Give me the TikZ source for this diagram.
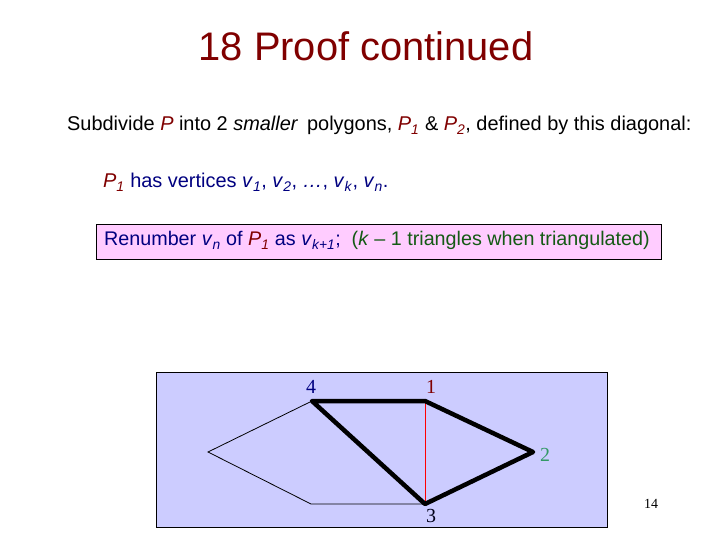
\documentclass[tikz,border=0pt]{standalone}
\usepackage{fontspec}
\setmainfont{Liberation Sans}
\newfontfamily\timesfont{Liberation Serif}
\definecolor{titlered}{RGB}{128,0,0}
\definecolor{navyblue}{RGB}{0,0,128}
\definecolor{darkgreen}{RGB}{20,90,20}
\definecolor{tealgreen}{RGB}{51,153,102}
\definecolor{boxpink}{RGB}{255,204,255}
\definecolor{lavender}{RGB}{204,204,255}
\newcommand\itsub[2]{\textit{#1}\textsubscript{\textit{#2}}}
\begin{document}
\begin{tikzpicture}
		[x=1bp,y=-1bp,
		 edge/.style={line width=4.5bp,line join=round,line cap=round},
		 side/.style={line width=0.8bp},
		 vlabel/.style={font=\timesfont\fontsize{20}{22}\selectfont,inner sep=0pt}]
		\useasboundingbox[fill=white] (0,0) rectangle (720,540);
		% title and text lines
		\node[titlered,font=\fontsize{40}{44}\selectfont] (title) at (366,46) {18 Proof continued};
		\node[anchor=base west,inner sep=0pt,font=\fontsize{20}{22}\selectfont] (line1) at (67,131)
			{Subdivide {\color{titlered}\textit{P}} into 2 \textit{smaller}\, polygons, {\color{titlered}\itsub{P}{1}} \& {\color{titlered}\itsub{P}{2}}, defined by this diagonal:};
		\node[anchor=base west,inner sep=0pt,navyblue,font=\fontsize{20}{22}\selectfont] (line2) at (103,188)
			{{\color{titlered}\itsub{P}{1}} has vertices \itsub{v}{1}, \itsub{v}{2}, \textit{\dots}, \itsub{v}{k}, \itsub{v}{n}.};
		% the pink box
		\fill[boxpink,draw=black,line width=0.8bp] (96,224) rectangle (661,259);
		\node[anchor=base west,inner sep=0pt,navyblue,font=\fontsize{19.8}{22}\selectfont] (renum) at (104,246)
			{Renumber \itsub{v}{n} of {\color{titlered}\itsub{P}{1}} as \itsub{v}{k+1};\ \ {\color{darkgreen}(\textit{k} -- 1 triangles when triangulated)}};

		% the polygon panel
		\fill[lavender,draw=black,line width=0.8bp] (156,372) rectangle (607,527);
		\coordinate (v4) at (312,401);
		\coordinate (v1) at (425,401);
		\coordinate (v2) at (533,452);
		\coordinate (v3) at (425,504);
		\coordinate (left) at (208,452);
		\coordinate (low) at (311,504);
		\draw[side] (v4) -- (left) -- (low) -- (v3);
		\draw[red,line width=1bp] (v1) -- (v3);
		\draw[edge] (v4) -- (v1) -- (v2) -- (v3) -- cycle;

		% vertex labels
		\node[vlabel,navyblue] (l4) at (311,387) {4};
		\node[vlabel,titlered] (l1) at (431,387) {1};
		\node[vlabel,tealgreen] (l2) at (545,455) {2};
		\node[vlabel,black!80!navyblue] (l3) at (431,516) {3};
		\node[font=\timesfont\fontsize{14}{16}\selectfont] (page) at (651,504) {14};
	\end{tikzpicture}
\end{document}
